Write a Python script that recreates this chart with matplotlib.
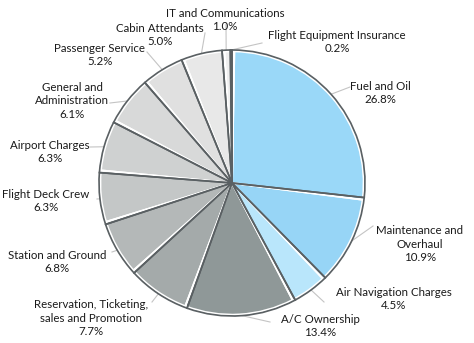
import numpy as np
import matplotlib.pyplot as plt

categories = ["Fuel and Oil", "Maintenance and\nOverhaul", "Air Navigation Charges",
              "A/C Ownership", "Reservation, Ticketing,\nsales and Promotion",
              "Station and Ground", "Flight Deck Crew", "Airport Charges",
              "General and\nAdministration", "Passenger Service", "Cabin Attendants",
              "IT and Communications", "Flight Equipment Insurance"]
shares = [26.8, 10.9, 4.5, 13.4, 7.7, 6.8, 6.3, 6.3, 6.1, 5.2, 5.0, 1.0, 0.2]
colors = ["#9ad8f8", "#97d5f6", "#b9e6fb", "#8f9898", "#a4aaaa", "#b4b8b8",
          "#c4c7c7", "#cfd1d1", "#d8d9d9", "#e0e0e0", "#e8e8e8", "#efefef", "#f5f5f5"]

# layout, in pixels of the 474x343 picture
W, H = 474, 343
CX, CY, R = 232, 183, 133
text_px = [(380, 93), (420, 244), (394, 299), (320, 326), (91, 318), (57, 262),
           (46, 201), (50, 152), (72, 101), (100, 55), (160, 35), (225, 20), (337, 42)]
line_px = [(350, 87), (373, 226), (324, 302), (270, 322), (152, 302), (112, 252),
           (97, 199), (90, 147), (110, 103), (147, 52), (205, 33), (226, 24), (262, 43)]


def to_data(p):
    return (p[0] - CX) / R, (CY - p[1]) / R


plt.rcParams['font.family'] = ['Lato', 'DejaVu Sans']
fig = plt.figure(figsize=(W / 100, H / 100), dpi=100)
ax = fig.add_axes([0, 0, 1, 1])

# faces
wedges, _ = ax.pie(shares, colors=colors, startangle=90, counterclock=False,
                   wedgeprops=dict(linewidth=0))
# white highlight on the clockwise side of every border
ax.pie(shares, colors=["none"] * len(shares), startangle=89, counterclock=False,
       radius=0.99, wedgeprops=dict(edgecolor="white", linewidth=1.4, fill=False))
# dark borders
ax.pie(shares, colors=["none"] * len(shares), startangle=90, counterclock=False,
       wedgeprops=dict(edgecolor="#5a6063", linewidth=1.2, fill=False))

for w, lab, val, tp, lp in zip(wedges, categories, shares, text_px, line_px):
    ang = np.deg2rad((w.theta1 + w.theta2) / 2)
    x0, y0 = np.cos(ang), np.sin(ang)
    x1, y1 = to_data(lp)
    ax.plot([x0, x1], [y0, y1], color="#c4c4c4", lw=0.8, zorder=0)
    tx, ty = to_data(tp)
    ax.text(tx, ty, f"{lab}\n{val:.1f}%", ha="center", va="center",
            fontsize=8.3, color="#1a1a1a", linespacing=1.27)

ax.set_xlim(-CX / R, (W - CX) / R)
ax.set_ylim((CY - H) / R, CY / R)
ax.set_aspect("equal")
ax.axis("off")

fig.savefig("out.png", dpi=100, facecolor="white")
